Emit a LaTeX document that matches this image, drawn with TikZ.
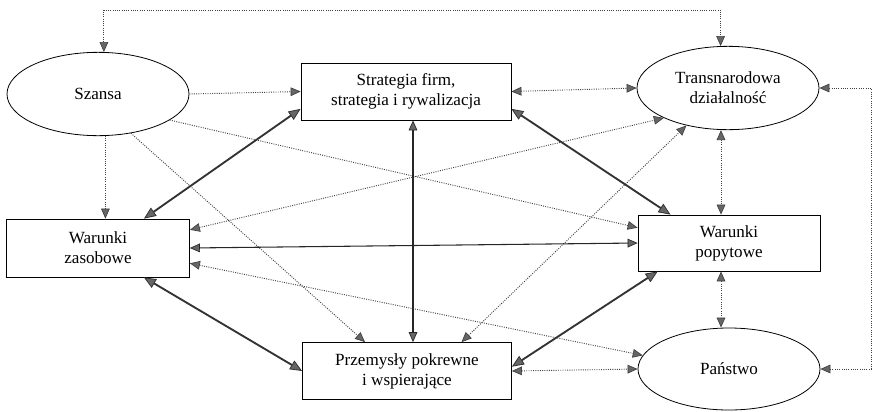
\documentclass[tikz,border=0pt]{standalone}
\usepackage{fontspec}
\setmainfont{Liberation Serif}
\usetikzlibrary{arrows.meta}
\usetikzlibrary{shapes}
\usetikzlibrary{shapes.geometric}
\usetikzlibrary{calc}

\begin{document}
\begin{tikzpicture}[x=0.75pt,y=-0.75pt,
  every node/.style={font=\fontsize{12.8}{15}\selectfont,align=center,draw,line width=0.6pt,inner sep=0pt},
  owal/.style={ellipse,minimum width=136.5pt,minimum height=62.5pt},
  skrzynka/.style={rectangle,minimum height=42.75pt},
  kropki/.style={densely dotted,line width=0.7pt,black!75,>={Triangle[length=7.5pt,width=6.5pt,fill=black!60,line width=0.5pt]}},
  cienka/.style={line width=0.8pt,black!85,>={Triangle[length=7.5pt,width=6.5pt,fill=black!60,line width=0.5pt]}},
  gruba/.style={line width=1.4pt,black!80,>={Triangle[length=9pt,width=7.5pt,fill=black!60,line width=0.6pt]}}]%diament Portera
\useasboundingbox (0,0) rectangle (874,411);
\node[owal] (szansa) at (98,94) {Szansa};
\node[skrzynka,minimum width=157.5pt] (strat) at (406,91.5) {Strategia firm,\\strategia i rywalizacja};
\node[owal] (trans) at (728,88) {Transnarodowa\\działalność};
\node[skrzynka,minimum width=137.25pt,minimum height=43.5pt] (zas) at (98,248) {Warunki\\zasobowe};
\node[skrzynka,minimum width=136.5pt,minimum height=42pt] (popyt) at (729,243) {Warunki\\popytowe};
\node[skrzynka,minimum width=156.75pt] (przem) at (407,371) {Przemysły pokrewne\\i wspierające};
\node[owal,minimum height=61.5pt] (panstwo) at (729,369) {Państwo};
\coordinate (gora) at (0,10);
\coordinate (prawo) at (871,0);
\coordinate (pion) at (413,0);
\coordinate (pion2) at (721,0);
% kropkowane
\draw[kropki,<->] (szansa.82) |- (gora -| trans.100) -- (trans.100);
\draw[kropki,<->] (trans.east) -- (trans.east -| prawo) |- (panstwo.east);
\draw[kropki,->] (szansa.east) -- (strat.west);
\draw[kropki,<->] (strat.east) -- (trans.west);
\draw[kropki,->] (szansa.-80) -- (szansa.-80 |- zas.north);
\draw[kropki,->] (szansa.-20) -- ($(popyt.west)!0.54!(popyt.north west)$);
\draw[kropki,->] (szansa.-50) -- ($(przem.north west)!0.3!(przem.north east)$);
\draw[kropki,<->] ($(zas.east)!0.62!(zas.north east)$) -- (trans.205);
\draw[kropki,<->] ($(zas.east)!0.52!(zas.south east)$) -- (panstwo.171);
\draw[kropki,<->] ($(przem.north west)!0.76!(przem.north east)$) -- (trans.222);
\draw[kropki,<->] (przem.east) -- (panstwo.west);
\draw[kropki,<->] (trans.south -| pion2) -- (popyt.north -| pion2);
\draw[kropki,<->] (popyt.south -| pion2) -- (panstwo.north -| pion2);
% ciagle
\draw[cienka,<->] (strat.south -| pion) -- (przem.north -| pion);
\draw[cienka,<->] (zas.east) -- (popyt.west);
\draw[gruba,<->] ($(zas.north west)!0.75!(zas.north east)$) -- ($(strat.west)!0.6!(strat.south west)$);
\draw[gruba,<->] ($(strat.east)!0.6!(strat.south east)$) -- ($(popyt.north west)!0.18!(popyt.north east)$);
\draw[gruba,<->] ($(zas.south west)!0.75!(zas.south east)$) -- (przem.west);
\draw[gruba,<->] ($(przem.east)!0.15!(przem.north east)$) -- ($(popyt.south west)!0.11!(popyt.south east)$);
\end{tikzpicture}
\end{document}
